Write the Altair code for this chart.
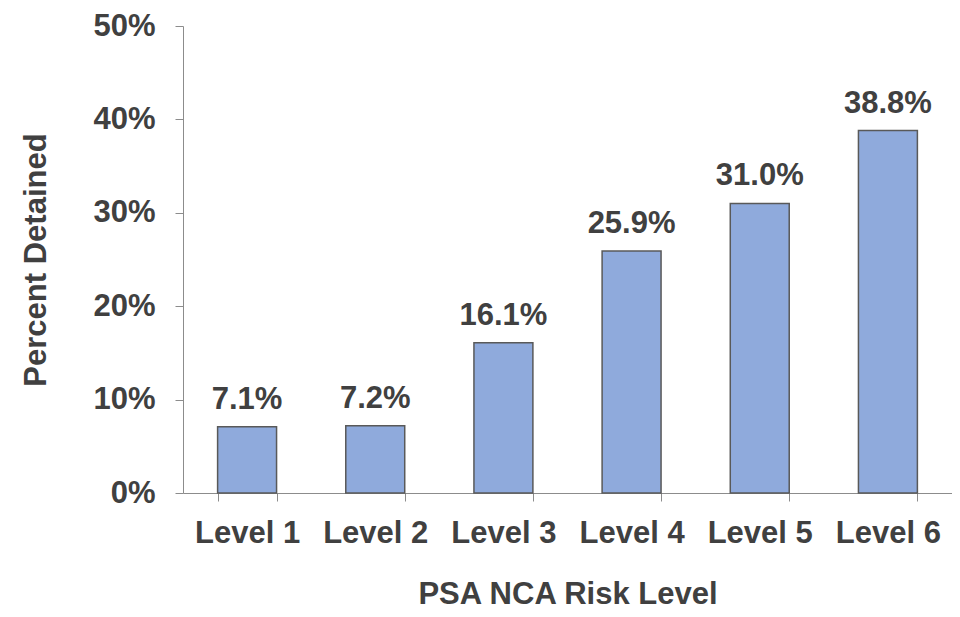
import altair as alt
import pandas as pd

levels = ["Level 1", "Level 2", "Level 3", "Level 4", "Level 5", "Level 6"]
pct = [7.1, 7.2, 16.1, 25.9, 31.0, 38.8]
labels = ["7.1%", "7.2%", "16.1%", "25.9%", "31.0%", "38.8%"]

df = pd.DataFrame({"level": levels, "pct": [p / 100 for p in pct], "label": labels})

FONT = "Liberation Sans"
TXT = "#404040"
FS = 31

x = alt.X("level:N", sort=levels, title="PSA NCA Risk Level",
          scale=alt.Scale(paddingInner=0.54, paddingOuter=0.27),
          axis=alt.Axis(labelAngle=0, tickBand="extent", domainColor="#8c8c8c",
                        tickColor="#8c8c8c", tickSize=8, labelPadding=17,
                        titlePadding=31))
y = alt.Y("pct:Q", title="Percent Detained",
          scale=alt.Scale(domain=[0, 0.5]),
          axis=alt.Axis(format=".0%", values=[0, 0.1, 0.2, 0.3, 0.4, 0.5], grid=False,
                        domainColor="#8c8c8c", tickColor="#8c8c8c", tickSize=8,
                        labelPadding=20, titlePadding=40))

bars = alt.Chart(df).mark_bar(color="#8faadc", stroke="#595959", strokeWidth=1.5).encode(x=x, y=y)
text = alt.Chart(df).mark_text(font=FONT, fontSize=FS, fontWeight="bold", color=TXT,
                               baseline="alphabetic", dy=-18).encode(
    x=alt.X("level:N", sort=levels), y="pct:Q", text="label:N")

chart = (bars + text).properties(
    width=769, height=467,
    autosize=alt.AutoSizeParams(type="none"),
    padding={"left": 175, "top": 18, "right": 0, "bottom": 116},
).configure_view(stroke=None).configure_axis(
    labelFont=FONT, titleFont=FONT, labelFontSize=FS, titleFontSize=FS,
    labelFontWeight="bold", titleFontWeight="bold", labelColor=TXT, titleColor=TXT,
)

chart.save("out.html", embed_options={"renderer": "svg", "actions": False})
